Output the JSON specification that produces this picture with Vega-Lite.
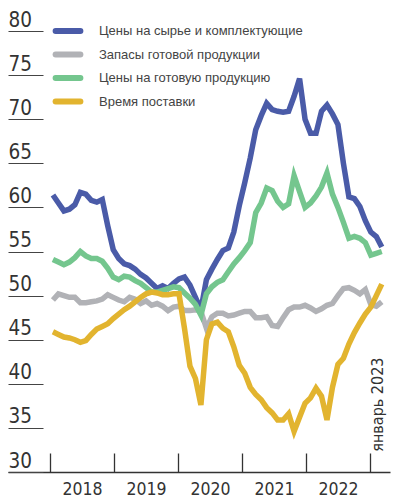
{
  "$schema": "https://vega.github.io/schema/vega-lite/v6.json",
  "width": 382,
  "height": 441,
  "autosize": {"type": "none"},
  "padding": {"left": 8, "top": 31, "right": 27, "bottom": 31},
  "background": "white",
  "config": {"view": {"stroke": null}, "font": "Liberation Sans Narrow, DejaVu Sans Condensed, Roboto Condensed, Roboto, sans-serif"},
  "layer": [
    {
      "data": {"values": [
        {"i":0,"b":61.4,"g":49.5,"n":54.1,"y":45.9},
        {"i":1,"b":60.5,"g":50.2,"n":53.8,"y":45.6},
        {"i":2,"b":59.6,"g":50.0,"n":53.5,"y":45.3},
        {"i":3,"b":59.8,"g":49.8,"n":53.8,"y":45.2},
        {"i":4,"b":60.3,"g":49.8,"n":54.3,"y":45.0},
        {"i":5,"b":61.7,"g":49.2,"n":55.0,"y":44.7},
        {"i":6,"b":61.5,"g":49.2,"n":54.5,"y":44.9},
        {"i":7,"b":60.8,"g":49.3,"n":54.2,"y":45.6},
        {"i":8,"b":60.6,"g":49.4,"n":54.2,"y":46.2},
        {"i":9,"b":60.9,"g":49.6,"n":53.9,"y":46.5},
        {"i":10,"b":57.9,"g":50.1,"n":53.1,"y":46.8},
        {"i":11,"b":55.2,"g":49.8,"n":52.1,"y":47.4},
        {"i":12,"b":54.2,"g":49.5,"n":51.8,"y":47.9},
        {"i":13,"b":53.6,"g":49.3,"n":52.2,"y":48.4},
        {"i":14,"b":53.4,"g":49.8,"n":52.1,"y":48.8},
        {"i":15,"b":53.0,"g":49.6,"n":51.7,"y":49.3},
        {"i":16,"b":52.4,"g":49.1,"n":51.4,"y":49.8},
        {"i":17,"b":52.0,"g":49.4,"n":50.9,"y":50.2},
        {"i":18,"b":51.4,"g":48.9,"n":50.4,"y":50.4},
        {"i":19,"b":50.8,"g":49.1,"n":50.4,"y":50.3},
        {"i":20,"b":51.1,"g":48.8,"n":50.6,"y":50.1},
        {"i":21,"b":50.8,"g":48.3,"n":50.8,"y":50.1},
        {"i":22,"b":51.4,"g":48.7,"n":51.0,"y":50.2},
        {"i":23,"b":51.9,"g":48.8,"n":50.9,"y":50.2},
        {"i":24,"b":52.1,"g":48.3,"n":50.3,"y":46.3},
        {"i":25,"b":51.2,"g":48.3,"n":49.7,"y":42.0},
        {"i":26,"b":49.8,"g":48.4,"n":49.0,"y":40.6},
        {"i":27,"b":48.4,"g":48.2,"n":47.8,"y":37.6},
        {"i":28,"b":51.8,"g":46.3,"n":50.2,"y":45.0},
        {"i":29,"b":53.0,"g":47.6,"n":51.0,"y":46.8},
        {"i":30,"b":54.1,"g":48.0,"n":51.5,"y":47.0},
        {"i":31,"b":55.1,"g":48.0,"n":51.8,"y":46.3},
        {"i":32,"b":55.4,"g":47.7,"n":52.7,"y":45.9},
        {"i":33,"b":57.2,"g":47.8,"n":53.6,"y":44.2},
        {"i":34,"b":60.2,"g":48.0,"n":54.3,"y":42.1},
        {"i":35,"b":62.8,"g":48.2,"n":55.1,"y":41.2},
        {"i":36,"b":65.6,"g":48.2,"n":56.0,"y":39.6},
        {"i":37,"b":68.8,"g":47.5,"n":59.4,"y":38.8},
        {"i":38,"b":70.4,"g":47.5,"n":60.5,"y":38.2},
        {"i":39,"b":71.8,"g":47.6,"n":62.2,"y":37.3},
        {"i":40,"b":71.1,"g":46.6,"n":61.9,"y":36.7},
        {"i":41,"b":70.9,"g":46.5,"n":60.7,"y":35.9},
        {"i":42,"b":70.8,"g":47.5,"n":60.0,"y":35.9},
        {"i":43,"b":70.9,"g":48.4,"n":60.4,"y":36.6},
        {"i":44,"b":72.6,"g":48.7,"n":63.6,"y":34.6},
        {"i":45,"b":74.6,"g":48.7,"n":61.8,"y":36.2},
        {"i":46,"b":70.0,"g":48.9,"n":60.0,"y":37.8},
        {"i":47,"b":68.4,"g":48.6,"n":60.5,"y":38.4},
        {"i":48,"b":68.4,"g":48.2,"n":61.3,"y":39.5},
        {"i":49,"b":70.9,"g":48.5,"n":62.3,"y":38.6},
        {"i":50,"b":71.6,"g":48.9,"n":63.9,"y":35.9},
        {"i":51,"b":70.6,"g":49.1,"n":61.5,"y":39.6},
        {"i":52,"b":69.4,"g":50.0,"n":60.0,"y":42.2},
        {"i":53,"b":65.0,"g":50.8,"n":58.3,"y":42.9},
        {"i":54,"b":61.2,"g":50.9,"n":56.5,"y":44.5},
        {"i":55,"b":61.0,"g":50.6,"n":56.7,"y":45.8},
        {"i":56,"b":60.1,"g":50.2,"n":56.5,"y":46.9},
        {"i":57,"b":58.5,"g":50.7,"n":56.0,"y":47.9},
        {"i":58,"b":57.2,"g":49.0,"n":54.6,"y":48.7},
        {"i":59,"b":56.7,"g":48.8,"n":54.8,"y":50.0},
        {"i":60,"b":55.5,"g":49.3,"n":55.0,"y":51.3}
      ]},
      "transform": [{"fold": ["b", "g", "n", "y"], "as": ["s", "v"]}],
      "mark": {"type": "line", "strokeWidth": 5.5},
      "encoding": {
        "x": {
          "field": "i", "type": "quantitative",
          "scale": {"domain": [-8.2, 61.5], "nice": false, "zero": false},
          "axis": {
            "values": [-0.55, 11.13, 22.81, 34.49, 46.17, 57.85],
            "title": null, "grid": false,
            "tickSize": -19, "tickColor": "#333333", "tickWidth": 1.3,
            "domainColor": "#333333", "domainWidth": 1.5,
            "labelPadding": 27, "labelOffset": 32, "labelFlush": false,
            "labelFontSize": 17.5, "labelColor": "#333333",
            "labelOverlap": false,
            "labelExpr": "datum.value < 5 ? '2018' : datum.value < 17 ? '2019' : datum.value < 28 ? '2020' : datum.value < 40 ? '2021' : datum.value < 52 ? '2022' : ''"
          }
        },
        "y": {
          "field": "v", "type": "quantitative",
          "scale": {"domain": [30, 80], "nice": false, "zero": false},
          "axis": {
            "values": [30, 35, 40, 45, 50, 55, 60, 65, 70, 75, 80],
            "title": null, "grid": false, "domain": false,
            "tickSize": -35, "tickColor": "#444444", "tickWidth": 1.2,
            "labelPadding": 35, "labelAlign": "left", "labelBaseline": "alphabetic",
            "labelOffset": -5, "labelFlush": false, "labelOverlap": false,
            "labelFontSize": 20.5, "labelColor": "#333333"
          }
        },
        "color": {
          "field": "s", "type": "nominal",
          "scale": {"domain": ["b", "g", "n", "y"], "range": ["#4a5ba8", "#b1b2b6", "#74c68e", "#e2b42f"]},
          "legend": {
            "orient": "none", "legendX": 49, "legendY": -11,
            "title": null, "padding": 0,
            "symbolType": "M-1.6,0L1.6,0", "symbolSize": 240, "symbolStrokeWidth": 6,
            "labelFont": "Liberation Sans, Roboto, sans-serif", "labelFontSize": 13, "labelColor": "#444444",
            "labelOffset": 20, "labelLimit": 300, "rowPadding": -0.5,
            "encode": {"symbols": {"update": {"strokeCap": {"value": "round"}}}},
            "labelExpr": "datum.label == 'b' ? 'Цены на сырье и комплектующие' : datum.label == 'g' ? 'Запасы готовой продукции' : datum.label == 'n' ? 'Цены на готовую продукцию' : 'Время поставки'"
          }
        }
      }
    },
    {
      "data": {"values": [{"i": 59.4, "v": 32.3, "t": "январь 2023"}]},
      "mark": {"type": "text", "angle": 270, "align": "left", "baseline": "middle", "fontSize": 16, "color": "#333333"},
      "encoding": {
        "x": {"field": "i", "type": "quantitative"},
        "y": {"field": "v", "type": "quantitative"},
        "text": {"field": "t"}
      }
    }
  ]
}
